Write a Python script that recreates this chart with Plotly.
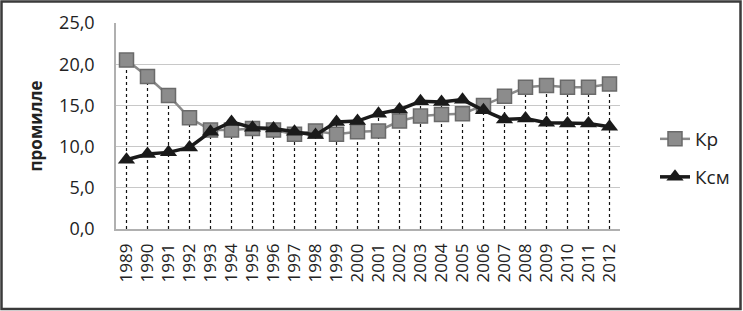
import plotly.graph_objects as go

years = [str(y) for y in range(1989, 2013)]
kr = [20.5, 18.5, 16.2, 13.5, 12.0, 12.0, 12.2, 12.0, 11.5, 11.9, 11.5, 11.8,
      11.9, 13.1, 13.7, 13.9, 14.0, 15.0, 16.1, 17.2, 17.4, 17.2, 17.2, 17.6]
ksm = [8.4, 9.1, 9.3, 9.9, 11.8, 13.0, 12.3, 12.2, 11.8, 11.4, 13.0, 13.1,
       14.0, 14.5, 15.5, 15.4, 15.7, 14.4, 13.3, 13.4, 12.9, 12.8, 12.8, 12.4]
yticks = [0, 5, 10, 15, 20, 25]
ytick_labels = ["0,0", "5,0", "10,0", "15,0", "20,0", "25,0"]

FONT = "Open Sans"

# drop lines from the highest point of each category down to zero
dx, dy = [], []
for yr, a, b in zip(years, kr, ksm):
    dx += [yr, yr, None]
    dy += [0, max(a, b), None]

fig = go.Figure()
fig.add_trace(go.Scatter(x=dx, y=dy, mode="lines", showlegend=False,
                         line=dict(color="#111111", width=1.2, dash="dot"),
                         hoverinfo="skip"))
fig.add_trace(go.Scatter(x=years, y=kr, name="Кр", mode="lines+markers",
                         line=dict(color="#8a8a8a", width=2.5),
                         marker=dict(symbol="square", size=14, color="#8c8c8c",
                                     line=dict(color="#6a6a6a", width=1.5)),
                         legend="legend"))
fig.add_trace(go.Scatter(x=years, y=ksm, name="Ксм", mode="lines+markers",
                         line=dict(color="#1a1a1a", width=3.5),
                         marker=dict(symbol="triangle-up", size=15, color="#1a1a1a"),
                         legend="legend2"))

L, R, T, B = 116, 123, 23, 82
W, H = 743, 311
pw, ph = W - L - R, H - T - B

fig.add_shape(type="rect", xref="paper", yref="paper",
              x0=(1.5 - L) / pw, x1=(W - 2.5 - L) / pw,
              y0=-(B - 2) / ph, y1=1 + (T - 1.5) / ph,
              line=dict(color="#3a3a3a", width=2.5), fillcolor="rgba(0,0,0,0)")

fig.update_layout(
    width=W, height=H,
    margin=dict(l=L, r=R, t=T, b=B, autoexpand=False),
    paper_bgcolor="white", plot_bgcolor="white",
    font=dict(family=FONT, color="#222222", size=15),
    xaxis=dict(type="category", categoryorder="array", categoryarray=years,
               range=[-0.5, len(years) - 0.5],
               tickangle=-90, showgrid=False, automargin=False,
               tickmode="array", tickvals=years, ticktext=years,
               showline=True, linecolor="#b0b0b0", linewidth=1.5,
               ticks="", tickfont=dict(size=17, family=FONT), ticklabelstandoff=6),
    yaxis=dict(range=[0, 25], tickvals=yticks, ticktext=ytick_labels, automargin=False,
               showgrid=True, gridcolor="#c8c8c8", gridwidth=1.2,
               showline=True, linecolor="#b0b0b0", linewidth=1.5,
               zeroline=False, ticks="", ticklabelstandoff=16,
               tickfont=dict(size=18, family=FONT),
               title=dict(text="<b>промилле</b>", font=dict(size=17, family=FONT),
                          standoff=12)),
    legend=dict(x=1 + 35 / pw, y=1 - (139 - T) / ph, yanchor="middle", xanchor="left",
                bgcolor="rgba(0,0,0,0)", font=dict(size=19, family=FONT)),
    legend2=dict(x=1 + 35 / pw, y=1 - (177 - T) / ph, yanchor="middle", xanchor="left",
                 bgcolor="rgba(0,0,0,0)", font=dict(size=19, family=FONT)),
)

fig.write_html("out.html", config={"displayModeBar": False},
               post_script="document.body.style.margin='0';document.body.style.overflow='hidden';")
